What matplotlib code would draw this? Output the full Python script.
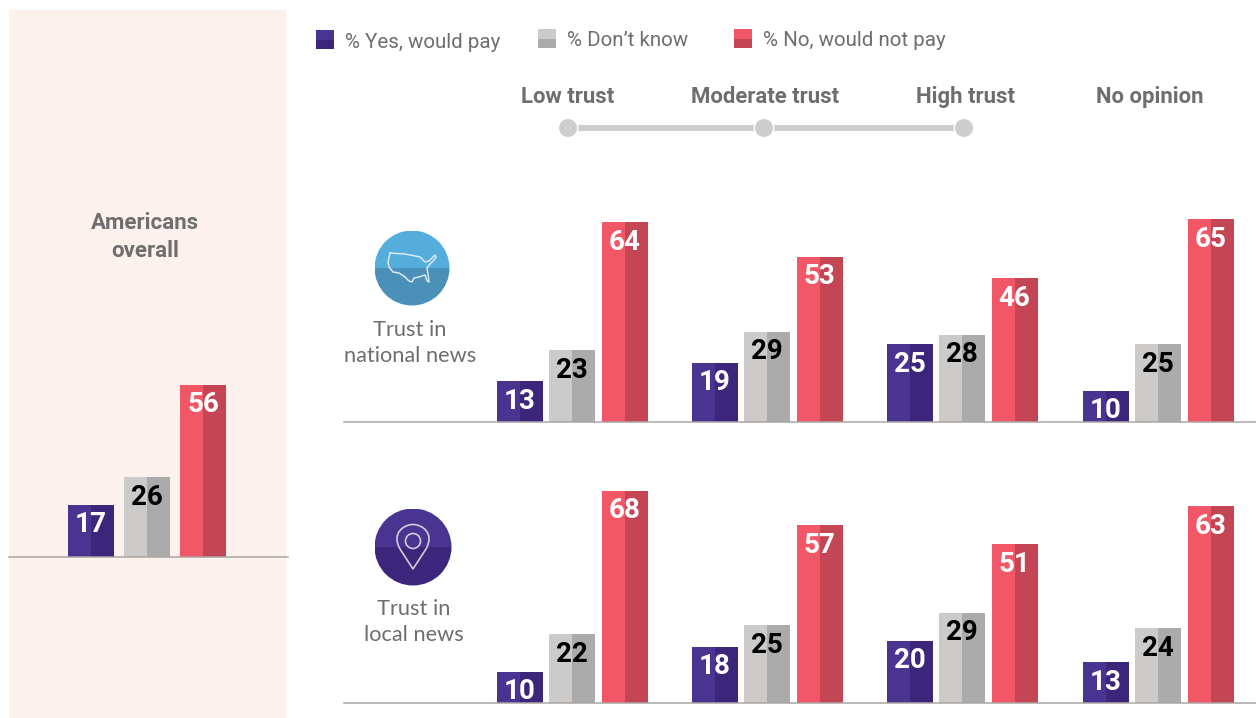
import matplotlib
matplotlib.use("Agg")
import matplotlib.pyplot as plt
from matplotlib.patches import Circle, Rectangle, PathPatch
from matplotlib.path import Path

W, H = 1256, 718

# ---- data ----
series = ["% Yes, would pay", "% Don\u2019t know", "% No, would not pay"]
trust_levels = ["Low trust", "Moderate trust", "High trust", "No opinion"]
overall = [17, 26, 56]
national_yes = [13, 19, 25, 10]
national_dk = [23, 29, 28, 25]
national_no = [64, 53, 46, 65]
local_yes = [10, 18, 20, 13]
local_dk = [22, 25, 29, 24]
local_no = [68, 57, 51, 63]

# ---- style ----
LIGHT = ["#4A3491", "#CCCBC9", "#F25767"]
DARK = ["#3C267B", "#ABABAB", "#C44654"]
LABEL = ["white", "black", "white"]
GREY = "#6E6E6E"
plt.rcParams["font.family"] = ["Roboto", "DejaVu Sans"]

fig = plt.figure(figsize=(W / 100, H / 100), dpi=100, facecolor="white")
bg = fig.add_axes([0, 0, 1, 1])
bg.set_xlim(0, W)
bg.set_ylim(H, 0)
bg.axis("off")

bg.add_patch(Rectangle((9, 10), 277, 708, fc="#FDF1ED", ec="none"))


def bar_axes(x0, x1, base, top, scale):
    ax = fig.add_axes([x0 / W, 1 - base / H, (x1 - x0) / W, (base - top) / H])
    ax.set_xlim(x0, x1)
    ax.set_ylim(0, (base - top) / scale)
    ax.patch.set_alpha(0)
    for s in ("top", "left", "right"):
        ax.spines[s].set_visible(False)
    ax.spines["bottom"].set_color("#A9A5A3")
    ax.spines["bottom"].set_linewidth(1.1)
    ax.set_xticks([])
    ax.set_yticks([])
    return ax


def group(ax, left, vals, offs, width=46):
    for i, v in enumerate(vals):
        x = left + offs[i]
        ax.bar(x, v, width / 2, align="edge", color=LIGHT[i], lw=0)
        ax.bar(x + width / 2, v, width / 2, align="edge", color=DARK[i], lw=0)
        ax.annotate(str(v), (x + width / 2, v), xytext=(0, -14.5),
                    textcoords="offset points", ha="center", va="center",
                    color=LABEL[i], fontsize=20, fontweight="bold", family="Roboto")


ax0 = bar_axes(9, 288, 557, 340, 3.08)
group(ax0, 68, overall, [0, 55.5, 112])

lefts = [497, 692, 887, 1083]
ax1 = bar_axes(344, W, 422, 190, 3.12)
for l, a, b, c in zip(lefts, national_yes, national_dk, national_no):
    group(ax1, l, [a, b, c], [0, 51.5, 104.5])
ax2 = bar_axes(344, W, 703, 470, 3.12)
for l, a, b, c in zip(lefts, local_yes, local_dk, local_no):
    group(ax2, l, [a, b, c], [0, 51.5, 104.5])

# legend
for (x, y, yt), name, lc, dc in zip([(316, 30, 42), (538, 29, 41), (734, 29, 41)], series, LIGHT, DARK):
    bg.add_patch(Rectangle((x, y), 18, 9.5, fc=lc, ec="none"))
    bg.add_patch(Rectangle((x, y + 9.5), 18, 9.5, fc=dc, ec="none"))
    bg.text(x + 29, yt, name, ha="left", va="center", fontsize=14.8, color=GREY, family="Roboto")

# trust scale
for t, x in zip(trust_levels, [568, 765, 965, 1150]):
    bg.text(x, 97, t, ha="center", va="center", fontsize=15.9, fontweight="bold",
            color=GREY, family="Roboto")
bg.plot([568, 964], [128, 128], color="#CECDCB", lw=4.4, solid_capstyle="butt", zorder=2)
for x in (568, 764, 964):
    bg.add_patch(Circle((x, 128), 10.5, fc="white", ec="none", zorder=3))
    bg.add_patch(Circle((x, 128), 9, fc="#CECDCB", ec="none", zorder=4))

# headings
bg.text(145, 237, "Americans\noverall", ha="center", va="center", fontsize=16, fontweight="bold",
        color=GREY, linespacing=1.3, family="Roboto")
bg.text(410, 343, "Trust in\nnational news", ha="center", va="center", fontsize=15.7,
        color=GREY, linespacing=1.35, family="Lato")
bg.text(414, 622, "Trust in\nlocal news", ha="center", va="center", fontsize=15.7,
        color=GREY, linespacing=1.4, family="Lato")


def icon(cx, cy, r, top, bottom):
    clip = Circle((cx, cy), r, transform=bg.transData)
    a = Rectangle((cx - r, cy - r), 2 * r, r, fc=top, ec="none")
    b = Rectangle((cx - r, cy), 2 * r, r, fc=bottom, ec="none")
    for p in (a, b):
        bg.add_patch(p)
        p.set_clip_path(clip)


icon(412, 268, 37.5, "#55ADDC", "#4A90B9")
icon(413, 547, 38.5, "#4A3491", "#3C267B")

# USA outline (icon decoration)
usa = [(390, 253), (405, 254), (420, 257), (425, 262), (429, 261), (435, 255), (436, 257),
       (434, 260), (430, 264), (427, 268), (428, 274), (429, 282), (427, 281), (425, 275),
       (419, 277), (414, 278), (412, 282), (409, 281), (405, 277), (399, 273), (393, 272),
       (389, 267), (388, 262), (390, 253)]
bg.plot([p[0] for p in usa], [p[1] for p in usa], color="#DCE8EF", lw=1.1, zorder=5)

# pin icon (icon decoration)
pin = Path([(413, 569), (400, 549), (391, 533), (404, 524.5), (413, 524.5), (422, 524.5),
            (435, 533), (426, 549), (413, 569)],
           [Path.MOVETO, Path.LINETO, Path.CURVE4, Path.CURVE4, Path.CURVE4, Path.CURVE4,
            Path.CURVE4, Path.LINETO, Path.CLOSEPOLY])
bg.add_patch(PathPatch(pin, fc="none", ec="#D0CDD8", lw=1.2, zorder=5))
bg.add_patch(Circle((413, 541), 7.5, fc="none", ec="#D0CDD8", lw=1.2, zorder=5))

fig.savefig("out.png", dpi=100, facecolor="white")
